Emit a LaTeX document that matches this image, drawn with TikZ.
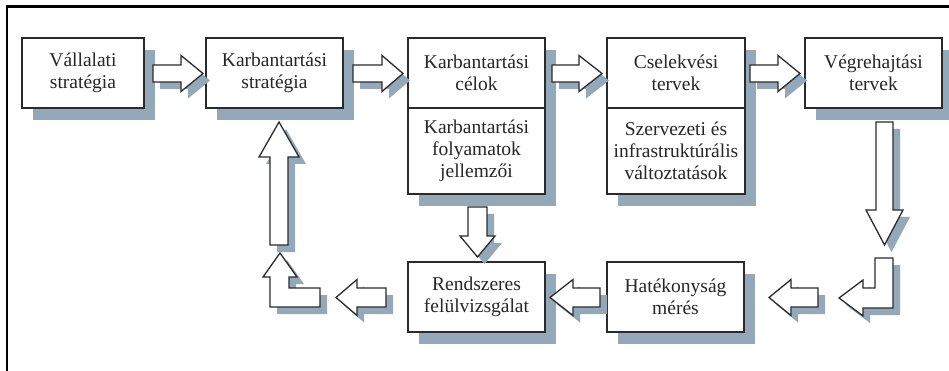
\documentclass[tikz,border=0pt]{standalone}
\usepackage{fontspec}
\setmainfont{Liberation Serif}
\usetikzlibrary{shadows}
\definecolor{shade}{HTML}{93A8B8}
\definecolor{edge}{HTML}{2B2B2B}
\tikzset{
  box/.style={draw=edge, fill=white, line width=1.3pt, inner sep=0pt,
    align=center, text=black!85, font=\fontsize{19.5}{22}\selectfont},
  boxshadow/.style={drop shadow={shadow xshift=11pt, shadow yshift=-12pt,
    fill=shade, opacity=1}},
  blockarrow/.style={draw=edge, fill=white, line width=1.3pt, line join=miter,
    drop shadow={shadow xshift=7pt, shadow yshift=-7pt, fill=shade, opacity=1}},
}
% right-pointing block arrow: #1 shaft start, #2 head base, #3 tip, #4 centre line
\newcommand{\rightblock}[4]{%
  \draw[blockarrow] (#1,#4-8.5) -- (#2,#4-8.5) -- (#2,#4-18) -- (#3,#4)
    -- (#2,#4+18) -- (#2,#4+8.5) -- (#1,#4+8.5) -- cycle;}
% left-pointing block arrow: #1 shaft end, #2 head base, #3 tip, #4 centre line
\newcommand{\leftblock}[4]{%
  \draw[blockarrow] (#1,#4-9.5) -- (#2,#4-9.5) -- (#2,#4-18) -- (#3,#4)
    -- (#2,#4+18) -- (#2,#4+9.5) -- (#1,#4+9.5) -- cycle;}
\begin{document}
\begin{tikzpicture}[x=1pt, y=-1pt]
\useasboundingbox (0,0) rectangle (949,371);
\fill[white] (0,0) rectangle (949,371);

% frame
\draw[line width=2.2pt, black] (7,371) -- (7,6.5) -- (949,6.5);

% boxes of the upper row
\node[box, boxshadow, minimum width=122pt, minimum height=70pt] (strat) at (83,73)
  {Vállalati\\stratégia};
\node[box, boxshadow, minimum width=137pt, minimum height=70pt] (kstrat) at (274.5,73)
  {Karbantartási\\stratégia};
\node[box, boxshadow, minimum width=137pt, minimum height=70pt] (celok) at (476.5,73)
  {Karbantartási\\célok};
\node[box, boxshadow, minimum width=137pt, minimum height=86pt] (jell) at (476.5,151)
  {Karbantartási\\folyamatok\\jellemzői};
\node[box, boxshadow, minimum width=138pt, minimum height=70pt] (cselek) at (676,73)
  {Cselekvési\\tervek};
\node[box, boxshadow, minimum width=138pt, minimum height=86pt] (szerv) at (676,151)
  {Szervezeti és\\infrastruktúrális\\változtatások};
\node[box, boxshadow, minimum width=137pt, minimum height=70pt] (vegre) at (873.5,73)
  {Végrehajtási\\tervek};

% boxes of the lower row
\node[box, boxshadow, minimum width=137pt, minimum height=70pt] (rendsz) at (476.5,297)
  {Rendszeres\\felülvizsgálat};
\node[box, boxshadow, minimum width=137pt, minimum height=70pt] (hatek) at (675.5,297)
  {Hatékonyság\\mérés};

% redraw the shared edges so they sit on top of the shadows
\draw[draw=edge, line width=1.3pt] (celok.north west) rectangle (jell.south east);
\draw[draw=edge, line width=1.3pt] (cselek.north west) rectangle (szerv.south east);

% arrows along the upper row
\rightblock{153}{181}{203}{73.5}
\rightblock{353}{382}{403}{73.5}
\rightblock{552}{579}{602}{73.5}
\rightblock{750}{778}{800}{73.5}

% down from the execution plans
\draw[blockarrow] (876,122) -- (893,122) -- (893,210) -- (903,210) -- (884.5,245)
  -- (866,210) -- (876,210) -- cycle;

% corner arrow turning left
\draw[blockarrow] (875,258) -- (893,258) -- (893,308) -- (863,308) -- (863,316)
  -- (839,298) -- (863,280) -- (863,288) -- (875,288) -- cycle;

% arrows along the lower row
\leftblock{818}{791}{769}{297.5}
\leftblock{600}{573}{550}{297.5}
\leftblock{386}{357}{336}{297.5}

% down from the process characteristics
\draw[blockarrow] (468,207) -- (487,207) -- (487,236) -- (495,236) -- (477.5,257)
  -- (460,236) -- (468,236) -- cycle;

% corner arrow turning up
\draw[blockarrow] (270,307) -- (320,307) -- (320,288) -- (289,288) -- (289,277)
  -- (297,277) -- (280,253) -- (263,277) -- (270,277) -- cycle;

% up into the maintenance strategy
\draw[blockarrow] (270,245) -- (288,245) -- (288,157) -- (299,157) -- (279,122)
  -- (259,157) -- (270,157) -- cycle;
\end{tikzpicture}
\end{document}
